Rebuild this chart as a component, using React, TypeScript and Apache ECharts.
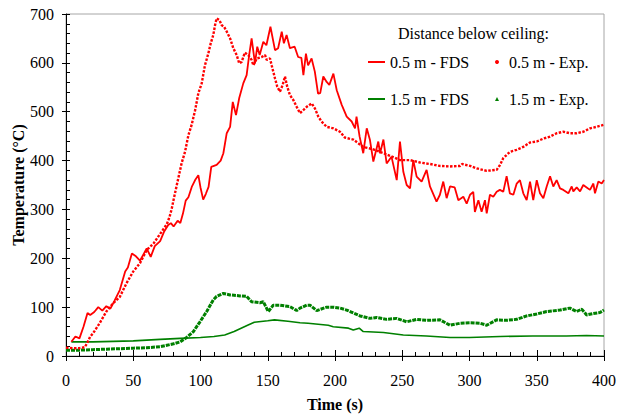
import React, { useEffect, useRef } from "react";
import * as echarts from "echarts";

// ---- data ----
const xTicks = [0, 50, 100, 150, 200, 250, 300, 350, 400];
const yTicks = [0, 100, 200, 300, 400, 500, 600, 700];

const fds05Time = [4, 7, 10, 13, 16, 18, 21, 24, 27, 30, 33, 36, 40, 44, 46, 49, 52, 55, 58, 60, 63, 66, 70, 73, 76, 78, 80, 83, 85, 87, 89, 91, 93.5, 96, 98.4, 100, 102, 104, 106, 108, 112, 115, 117, 119.5, 122, 124, 126.4, 128.8, 131.8, 134.3, 136, 138, 140.5, 142.2, 144, 146.7, 149, 152, 155.4, 157.7, 160.4, 162, 164, 166.5, 170, 172.6, 175, 176.5, 178.4, 180, 182.6, 185, 187.4, 189, 191.3, 193.8, 195.8, 198.8, 201.3, 205, 208.7, 212.4, 214.9, 216, 218.3, 221, 223.6, 226, 228.5, 232.2, 233.5, 236, 238.4, 242, 245.9, 248.3, 250.8, 253.3, 255.8, 258.2, 260.7, 264.4, 268.1, 270.6, 275.5, 278, 280.5, 283, 285.5, 289, 291.7, 295.4, 297.9, 300.4, 302.8, 304, 306.6, 309, 311.5, 312.8, 315.2, 317.7, 320.2, 322.6, 325.1, 327.6, 330, 332.6, 335.1, 337.5, 340, 342.5, 345, 347.4, 350, 352.4, 354.9, 357.4, 359.9, 362.3, 364.8, 367.3, 369.8, 373.5, 376, 377.2, 379.7, 382.2, 384.6, 387.1, 389.6, 392.1, 393.3, 395.8, 398.3, 400];
const fds05Temp = [29, 40, 36, 60, 88, 84, 90, 100, 93, 102, 97, 113, 135, 173, 181, 210, 204, 195, 210, 220, 203, 225, 235, 255, 268, 272, 265, 277, 272, 292, 318, 325, 346, 360, 370, 345, 320, 332, 346, 387, 391, 400, 415, 456, 469, 520, 493, 528, 558, 575, 612, 650, 599, 633, 616, 643, 636, 674, 626, 630, 664, 640, 657, 630, 633, 612, 610, 575, 619, 595, 609, 582, 537, 538, 572, 561, 555, 578, 544, 514, 490, 480, 466, 490, 449, 415, 466, 442, 398, 439, 415, 443, 394, 408, 360, 439, 377, 350, 343, 401, 367, 357, 381, 347, 316, 330, 357, 323, 347, 345, 319, 326, 312, 330, 336, 295, 319, 295, 319, 292, 330, 326, 336, 340, 336, 368, 333, 330, 353, 360, 333, 319, 357, 319, 360, 333, 323, 347, 368, 347, 360, 343, 340, 333, 347, 337, 345, 337, 350, 345, 340, 353, 333, 357, 353, 360];

const exp05Time = [0, 5, 10, 14, 16, 18, 20, 25, 30, 35, 40, 45, 50, 55, 60, 65, 70, 75, 77, 78.5, 80, 83.5, 86, 88.5, 91, 93.4, 96, 98.4, 100.9, 103.3, 105.8, 107.6, 109.5, 110.8, 112, 114, 115.8, 117.5, 119.5, 122, 124.4, 126.9, 128.8, 130.6, 133, 135.5, 138, 139.3, 141.8, 145.5, 148, 149.2, 151.7, 152.9, 154.1, 155.4, 157.1, 159.1, 161.1, 162.8, 164.5, 166.5, 169, 171.5, 174, 176.4, 179, 182.7, 185, 187.6, 190, 193.8, 198.8, 203.7, 207.4, 213.6, 221, 228.5, 236, 243.3, 248.3, 255.8, 263.2, 270.6, 278, 285.5, 293, 294.5, 300.4, 305.3, 312.8, 320.2, 322.7, 325.1, 330.1, 335, 340, 345, 350, 355, 359.9, 364.8, 369.7, 374.7, 379.7, 384.6, 389.6, 394.5, 399.5];
const exp05Temp = [17, 16, 16, 18, 28, 40, 46, 67, 91, 108, 121, 149, 173, 190, 217, 230, 250, 270, 285, 300, 320, 364, 395, 418, 452, 473, 503, 538, 558, 595, 619, 640, 657, 677, 691, 688, 677, 674, 664, 650, 630, 616, 599, 602, 621, 616, 606, 595, 609, 612, 616, 606, 609, 595, 582, 568, 551, 541, 555, 572, 551, 534, 524, 510, 497, 503, 510, 517, 507, 490, 480, 469, 466, 459, 447, 443, 428, 423, 415, 407, 401, 401, 396, 393, 389, 388, 389, 393, 389, 384, 379, 381, 391, 405, 418, 422, 428, 437, 439, 445, 449, 456, 459, 456, 456, 459, 466, 469, 473];

const fds15Time = [4, 20, 35, 50, 70, 85, 100, 110, 118, 125, 135, 140, 150, 155, 165, 174, 180, 195, 198.7, 210, 213.6, 218, 221, 236, 250.8, 268, 285.5, 300, 322.7, 347, 372, 387, 400];
const fds15Temp = [29, 29, 30, 31, 34, 36, 38, 40, 43, 50, 63, 69, 72, 74, 71, 68, 67, 63, 60, 57, 53, 57, 50, 48, 43, 41, 38, 38, 40, 41, 41, 42, 41];

const exp15Time = [0, 10, 20, 30, 40, 50, 60, 70, 80, 85, 89.7, 94.7, 99.6, 104.6, 109.5, 112, 114.5, 117, 122, 129.4, 134.3, 138, 144.2, 146.7, 150.4, 154.1, 159, 166.5, 171.5, 174, 179, 181.4, 186.4, 193.8, 198.7, 203.7, 208.7, 211.2, 218.6, 226, 231, 238.4, 245.9, 253.3, 260.7, 268.2, 278, 285.5, 293, 300.4, 307.8, 312.8, 320.2, 327.6, 335, 342.5, 350, 357.4, 367.3, 374.7, 379.7, 383.4, 387.1, 392, 397, 400];
const exp15Temp = [12, 12, 13, 14, 15, 16, 17, 19, 25, 29, 38, 50, 70, 91, 115, 122, 125, 128, 125, 123, 122, 111, 109, 111, 91, 104, 104, 101, 93, 98, 104, 104, 93, 100, 100, 98, 94, 91, 82, 77, 79, 75, 77, 70, 75, 73, 74, 63, 67, 68, 67, 63, 74, 73, 75, 82, 86, 91, 94, 98, 91, 96, 84, 87, 89, 94];

const seriesNames = ["0.5 m - FDS", "0.5 m - Exp.", "1.5 m - FDS", "1.5 m - Exp."];
const legendTitle = "Distance below ceiling:";

const RED = "#ff0000";
const GREEN = "#008000";
const FONT = "Liberation Serif";
const LINE_ICON = "path://M0,6L17,6L17,8L0,8Z";

const zip = (t: number[], v: number[]) => t.map((x, i) => [x, v[i]]);

export default function App() {
  const ref = useRef<HTMLDivElement>(null);

  useEffect(() => {
    document.body.style.margin = "0";
    if (!ref.current) return;
    const chart = echarts.init(ref.current, undefined, { renderer: "svg" });

    const baseX = {
      type: "value" as const,
      position: "bottom" as const,
      min: xTicks[0],
      max: xTicks[xTicks.length - 1],
      interval: 50,
      splitLine: { show: false },
    };
    const baseY = {
      type: "value" as const,
      position: "left" as const,
      min: yTicks[0],
      max: yTicks[yTicks.length - 1],
      interval: 100,
      splitLine: { show: false },
    };

    chart.setOption({
      animation: false,
      textStyle: { fontFamily: FONT, color: "#000" },
      grid: {
        left: 66,
        right: 14,
        top: 14,
        bottom: 61,
        show: true,
        borderColor: "#a6a6a6",
        borderWidth: 1,
        containLabel: false,
        outerBoundsMode: "none",
      },
      title: {
        text: legendTitle,
        left: 398,
        top: 25,
        padding: 0,
        textStyle: { fontFamily: FONT, fontSize: 16, fontWeight: "normal", color: "#000" },
      },
      legend: [
        {
          data: [
            { name: seriesNames[0], icon: LINE_ICON },
            { name: seriesNames[2], icon: LINE_ICON },
          ],
          orient: "vertical",
          left: 368,
          top: 54,
          padding: 0,
          itemWidth: 17,
          itemHeight: 14,
          itemGap: 21,
          itemStyle: { borderWidth: 0 },
          textStyle: { fontFamily: FONT, fontSize: 16, color: "#000", lineHeight: 16 },
        },
        {
          data: [
            { name: seriesNames[1], icon: "circle" },
            { name: seriesNames[3], icon: "triangle" },
          ],
          orient: "vertical",
          left: 495,
          top: 54,
          padding: 0,
          itemWidth: 4,
          itemHeight: 4,
          itemGap: 21,
          itemStyle: { borderWidth: 0 },
          textStyle: { fontFamily: FONT, fontSize: 16, color: "#000", lineHeight: 16, padding: [0, 0, 0, 5] },
        },
      ],
      xAxis: [
        {
          ...baseX,
          axisLine: { show: true, onZero: false, lineStyle: { color: "#000", width: 1 } },
          axisTick: { show: true, inside: false, length: 5, lineStyle: { color: "#000" } },
          axisLabel: { margin: 16, fontSize: 16, color: "#000", fontFamily: FONT },
          name: "Time (s)",
          nameLocation: "middle",
          nameGap: 40,
          nameMoveOverlap: false,
          nameTextStyle: { fontFamily: FONT, fontSize: 16, fontWeight: "bold", color: "#000" },
        },
        {
          ...baseX,
          axisLine: { show: false, onZero: false },
          axisLabel: { show: false },
          axisTick: { show: true, inside: true, length: 6, lineStyle: { color: "#000" } },
          minorTick: { show: true, splitNumber: 5, length: 4, lineStyle: { color: "#000" } },
        },
      ],
      yAxis: [
        {
          ...baseY,
          axisLine: { show: true, onZero: false, lineStyle: { color: "#000", width: 1 } },
          axisTick: { show: true, inside: false, length: 4, lineStyle: { color: "#000" } },
          axisLabel: { margin: 12, fontSize: 16, color: "#000", fontFamily: FONT },
          name: "Temperature (°C)",
          nameLocation: "middle",
          nameGap: 40,
          nameRotate: 90,
          nameMoveOverlap: false,
          nameTextStyle: { fontFamily: FONT, fontSize: 16, fontWeight: "bold", color: "#000" },
        },
        {
          ...baseY,
          axisLine: { show: false, onZero: false },
          axisLabel: { show: false },
          axisTick: { show: true, inside: true, length: 4, lineStyle: { color: "#000" } },
          minorTick: { show: true, splitNumber: 5, length: 4, lineStyle: { color: "#000" } },
        },
      ],
      series: [
        {
          name: seriesNames[3],
          type: "line",
          xAxisIndex: 0,
          yAxisIndex: 0,
          data: zip(exp15Time, exp15Temp),
          symbol: "none",
          color: GREEN,
          lineStyle: { color: GREEN, width: 3, type: [4, 1] },
          z: 2,
        },
        {
          name: seriesNames[2],
          type: "line",
          xAxisIndex: 0,
          yAxisIndex: 0,
          data: zip(fds15Time, fds15Temp),
          symbol: "none",
          color: GREEN,
          lineStyle: { color: GREEN, width: 1.6 },
          z: 3,
        },
        {
          name: seriesNames[1],
          type: "line",
          xAxisIndex: 0,
          yAxisIndex: 0,
          data: zip(exp05Time, exp05Temp),
          symbol: "none",
          color: RED,
          lineStyle: { color: RED, width: 2.4, type: [2.5, 1.5] },
          z: 4,
        },
        {
          name: seriesNames[0],
          type: "line",
          xAxisIndex: 0,
          yAxisIndex: 0,
          data: zip(fds05Time, fds05Temp),
          symbol: "none",
          color: RED,
          lineStyle: { color: RED, width: 1.8 },
          z: 5,
        },
      ],
    });

    return () => chart.dispose();
  }, []);

  return <div ref={ref} style={{ width: 618, height: 417 }} />;
}
